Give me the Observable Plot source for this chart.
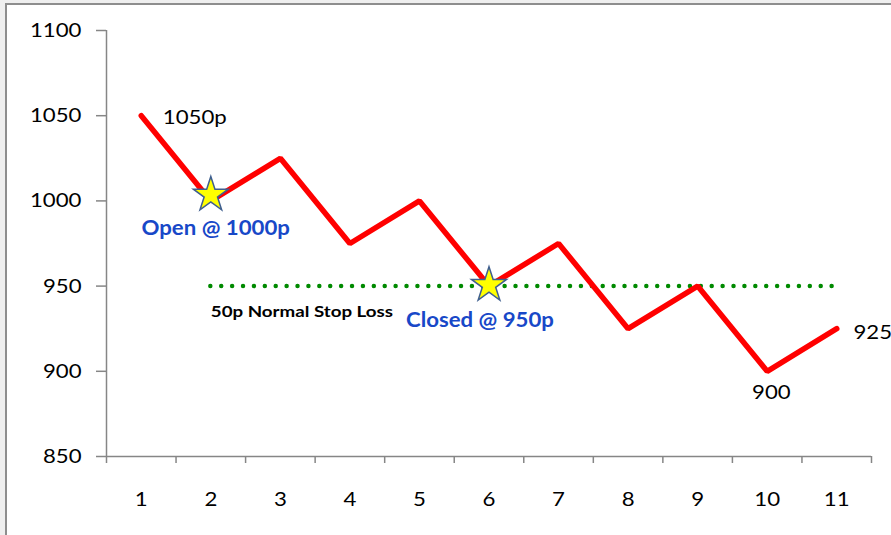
<!DOCTYPE html>
<html>
<head>
<meta charset="utf-8">
<script src="https://cdn.jsdelivr.net/npm/d3@7"></script>
<script src="https://cdn.jsdelivr.net/npm/@observablehq/plot@0.6"></script>
<style>
  html, body { margin: 0; padding: 0; background: #efefef; overflow: hidden; }
  #frame { position: absolute; left: 5px; top: 3px; width: 900px; height: 540px;
           background: #fff; border-left: 2px solid #8e8e8e; border-top: 2px solid #8e8e8e; }
  #chart { position: absolute; left: -7px; top: -5px; }
</style>
</head>
<body>
<div id="frame"><div id="chart"></div></div>
<script>
// Data
const periods = [1, 2, 3, 4, 5, 6, 7, 8, 9, 10, 11];
const prices = [1050, 1000, 1025, 975, 1000, 950, 975, 925, 950, 900, 925];
const yTicks = [850, 900, 950, 1000, 1050, 1100];
const stopLossLevel = 950;
const stopLossFrom = 2;
const stopLossTo = 11;
const openPoint = {x: 2, y: 1000};
const closePoint = {x: 6, y: 950};

// annotation texts and their anchor locations in data units
const startLabels = ["1050p", "925"];
const startLabelX = [1.31, 11.24];
const startLabelY = [1049, 922.5];

const middleLabels = ["900"];
const middleLabelX = [10.06];
const middleLabelY = [887.5];

const blueLabels = ["Open @ 1000p", "Closed @ 950p"];
const blueLabelX = [2.07, 5.87];
const blueLabelY = [983.8, 929.8];

const stopLabel = ["50p Normal Stop Loss"];
const stopLabelX = [3.31];
const stopLabelY = [935];

const series = periods.map((p, i) => ({x: p, y: prices[i]}));
const boundaries = d3.range(0.5, 11.51, 1);

const axisGray = "#868686";
const textOpts = (xs, ys) => ({x: (d, i) => xs[i], y: (d, i) => ys[i], text: d => d});

const chart = Plot.plot({
  width: 891,
  height: 535,
  marginLeft: 106,
  marginRight: 20,
  marginTop: 30,
  marginBottom: 79,
  style: {fontFamily: "Lato, 'Open Sans', sans-serif", fontSize: "20px", color: "#000", background: "transparent"},
  x: {domain: [0.5, 11.5]},
  y: {domain: [850, 1100]},
  marks: [
    Plot.ruleY([850], {stroke: axisGray, strokeWidth: 1.5}),
    Plot.ruleX([0.5], {stroke: axisGray, strokeWidth: 1.5}),
    Plot.axisX({ticks: boundaries, tickSize: 7, tickFormat: () => "", stroke: axisGray, strokeWidth: 1.5, label: null}),
    Plot.axisX({ticks: periods, tickSize: 0, tickPadding: 35, tickFormat: d => String(d), fontSize: 20, fill: "#000", label: null}),
    Plot.axisY({ticks: yTicks, tickSize: 10, tickPadding: 15, stroke: axisGray, strokeWidth: 1.5, fontSize: 20, fill: "#000", label: null, tickFormat: d => String(d)}),
    Plot.ruleY([stopLossLevel], {x1: stopLossFrom, x2: stopLossTo, stroke: "#008a00", strokeWidth: 4.5, strokeDasharray: "0 10.9", strokeLinecap: "round"}),
    Plot.line(series, {x: "x", y: "y", stroke: "#ff0000", strokeWidth: 5.5, strokeLinejoin: "miter"}),
    Plot.dot([openPoint], {x: "x", y: "y", symbol: "star", r: 11, fill: "#ffff00", stroke: "#3f5f8f", strokeWidth: 1.5, dy: -6}),
    Plot.dot([closePoint], {x: "x", y: "y", symbol: "star", r: 11, fill: "#ffff00", stroke: "#3f5f8f", strokeWidth: 1.5, dy: -1}),
    Plot.text(startLabels, {...textOpts(startLabelX, startLabelY), textAnchor: "start", fontSize: 20, fill: "#000"}),
    Plot.text(middleLabels, {...textOpts(middleLabelX, middleLabelY), textAnchor: "middle", fontSize: 20, fill: "#000"}),
    Plot.text(blueLabels, {...textOpts(blueLabelX, blueLabelY), textAnchor: "middle", fontSize: 20, fontWeight: "bold", fill: "#1848c8"}),
    Plot.text(stopLabel, {...textOpts(stopLabelX, stopLabelY), textAnchor: "middle", fontSize: 16, fontWeight: "bold", fill: "#000", className: "stoplabel"})
  ]
});
document.getElementById("chart").appendChild(chart);

// widen glyphs slightly to match the reference's wide rendering
chart.querySelectorAll("text").forEach(t => {
  const len = t.getComputedTextLength();
  if (!len) return;
  const k = t.closest(".stoplabel") ? 1.17 : 1.11;
  t.setAttribute("textLength", (len * k).toFixed(1));
  t.setAttribute("lengthAdjust", "spacingAndGlyphs");
});
</script>
</body>
</html>
